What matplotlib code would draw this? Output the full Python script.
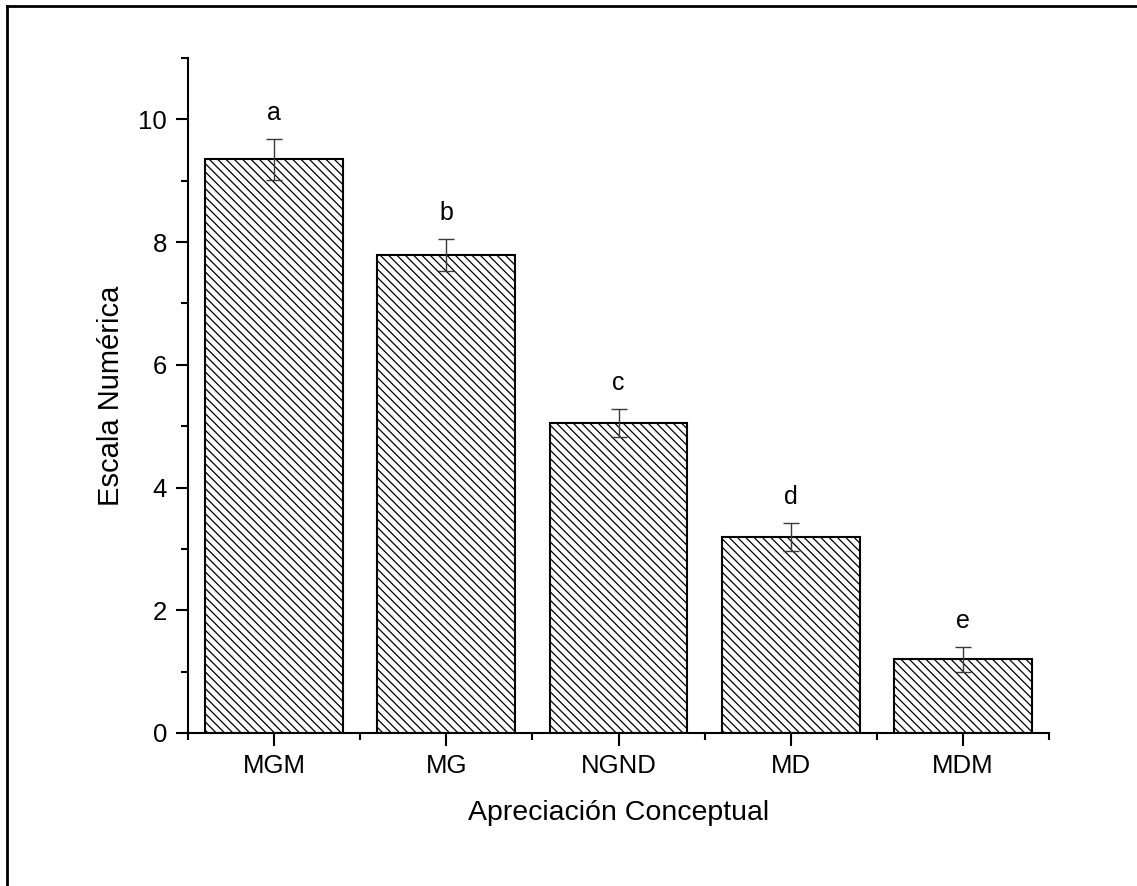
import matplotlib
matplotlib.use("Agg")
import matplotlib.pyplot as plt
from matplotlib.lines import Line2D
from matplotlib.ticker import FixedLocator

categories = ["MGM", "MG", "NGND", "MD", "MDM"]
values = [9.35, 7.79, 5.05, 3.20, 1.20]
errors = [0.33, 0.26, 0.23, 0.23, 0.20]
letters = ["a", "b", "c", "d", "e"]

plt.rcParams['font.family'] = ['Liberation Sans', 'DejaVu Sans']
plt.rcParams['hatch.linewidth'] = 0.9

fig = plt.figure(figsize=(11.37, 8.86), dpi=100)
ax = fig.add_axes([188/1137, 153/886, (1049-188)/1137, (733-58)/886])

x = list(range(1, len(categories) + 1))
ax.bar(x, values, width=0.8, color='white', edgecolor='black', linewidth=1.5,
       hatch='\\\\\\\\', zorder=2)
ax.errorbar(x, values, yerr=errors, fmt='none', ecolor='#3a3a3a', elinewidth=1.0,
            capsize=6, capthick=1.0, zorder=3)
for xi, v, e, l in zip(x, values, errors, letters):
    ax.annotate(l, (xi, v + e), xytext=(0, 10), textcoords='offset points',
                ha='center', va='bottom', fontsize=18)

ax.set_xlim(0.5, 5.5)
ax.set_ylim(0, 11)
ax.set_xticks(x)
ax.set_xticklabels(categories)
ax.xaxis.set_minor_locator(FixedLocator([0.5 + i for i in range(6)]))
ax.yaxis.set_major_locator(FixedLocator([0, 2, 4, 6, 8, 10]))
ax.yaxis.set_minor_locator(FixedLocator([1, 3, 5, 7, 9, 11]))
ax.tick_params(which='major', direction='out', length=9, width=1.5, labelsize=18.5, pad=6)
ax.tick_params(which='minor', direction='out', length=5, width=1.5)
for s in ['top', 'right']:
    ax.spines[s].set_visible(False)
for s in ['left', 'bottom']:
    ax.spines[s].set_linewidth(1.5)

ax.set_xlabel("Apreciación Conceptual", fontsize=20.5, labelpad=16)
ax.set_ylabel("Escala Numérica", fontsize=21, labelpad=10)

# figure border (top and left visible)
fig.add_artist(Line2D([7/1137, 1], [1 - 6/886, 1 - 6/886], transform=fig.transFigure,
                      color='black', linewidth=2))
fig.add_artist(Line2D([7/1137, 7/1137], [0, 1 - 6/886], transform=fig.transFigure,
                      color='black', linewidth=2))

fig.savefig("out.png", dpi=100)
